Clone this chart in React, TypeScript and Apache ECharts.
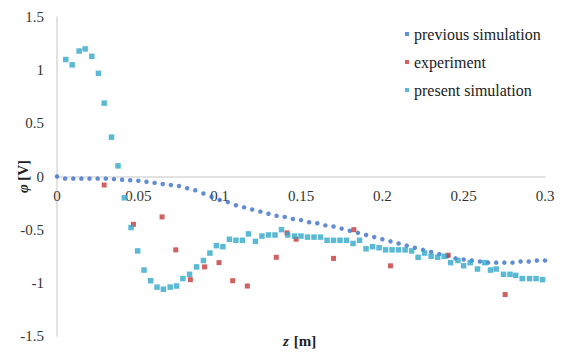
import React, { useEffect, useRef } from "react";
import * as echarts from "echarts";

const prevX = [0, 0.005, 0.01, 0.015, 0.02, 0.025, 0.03, 0.035, 0.04, 0.045, 0.05, 0.055, 0.06, 0.065, 0.07, 0.075, 0.08, 0.085, 0.09, 0.095, 0.1, 0.105, 0.11, 0.115, 0.12, 0.125, 0.13, 0.135, 0.14, 0.145, 0.15, 0.155, 0.16, 0.165, 0.17, 0.175, 0.18, 0.185, 0.19, 0.195, 0.2, 0.205, 0.21, 0.215, 0.22, 0.225, 0.23, 0.235, 0.24, 0.245, 0.25, 0.255, 0.26, 0.265, 0.27, 0.275, 0.28, 0.285, 0.29, 0.295, 0.3];
const prevY = [0.0, -0.02, -0.02, -0.02, -0.02, -0.02, -0.02, -0.025, -0.03, -0.035, -0.04, -0.05, -0.06, -0.07, -0.08, -0.09, -0.11, -0.13, -0.16, -0.19, -0.22, -0.24, -0.27, -0.29, -0.31, -0.33, -0.35, -0.37, -0.38, -0.4, -0.41, -0.43, -0.44, -0.46, -0.47, -0.49, -0.51, -0.53, -0.55, -0.57, -0.59, -0.61, -0.63, -0.65, -0.67, -0.69, -0.71, -0.73, -0.75, -0.77, -0.78, -0.79, -0.8, -0.81, -0.81, -0.81, -0.81, -0.8, -0.8, -0.79, -0.79];

const expX = [0.029, 0.047, 0.0646, 0.073, 0.082, 0.0907, 0.0996, 0.108, 0.117, 0.1348, 0.1414, 0.147, 0.17, 0.1825, 0.205, 0.2405, 0.2755];
const expY = [-0.08, -0.45, -0.38, -0.69, -0.97, -0.85, -0.81, -0.98, -1.03, -0.76, -0.53, -0.59, -0.77, -0.5, -0.84, -0.74, -1.11];

const presX = [0.0054, 0.0093, 0.0136, 0.0173, 0.0214, 0.0255, 0.029, 0.0335, 0.0375, 0.0414, 0.0455, 0.0496, 0.0535, 0.0576, 0.0615, 0.0654, 0.0696, 0.0735, 0.0774, 0.0815, 0.0858, 0.09, 0.094, 0.098, 0.102, 0.106, 0.11, 0.114, 0.1177, 0.122, 0.126, 0.13, 0.134, 0.138, 0.1418, 0.146, 0.15, 0.154, 0.158, 0.162, 0.166, 0.17, 0.174, 0.178, 0.182, 0.186, 0.19, 0.194, 0.198, 0.202, 0.206, 0.21, 0.214, 0.218, 0.222, 0.226, 0.23, 0.234, 0.238, 0.242, 0.2465, 0.25, 0.254, 0.2585, 0.263, 0.2665, 0.27, 0.2745, 0.2785, 0.282, 0.286, 0.2905, 0.2945, 0.2985];
const presY = [1.1, 1.05, 1.18, 1.2, 1.13, 0.97, 0.69, 0.37, 0.1, -0.2, -0.48, -0.7, -0.88, -0.98, -1.04, -1.06, -1.04, -1.03, -0.96, -0.92, -0.85, -0.79, -0.72, -0.65, -0.66, -0.59, -0.6, -0.6, -0.54, -0.61, -0.56, -0.55, -0.55, -0.5, -0.55, -0.56, -0.56, -0.57, -0.57, -0.57, -0.6, -0.6, -0.6, -0.6, -0.63, -0.6, -0.68, -0.66, -0.67, -0.69, -0.69, -0.69, -0.69, -0.7, -0.76, -0.72, -0.75, -0.76, -0.75, -0.81, -0.79, -0.84, -0.81, -0.87, -0.81, -0.88, -0.87, -0.92, -0.92, -0.93, -0.96, -0.96, -0.96, -0.97];

const seriesNames = ["previous simulation", "experiment", "present simulation"];
const colors = ["#3B6FC9", "#C63A3A", "#33A8CA"];

const FONT = "Liberation Serif";

const zip = (xs: number[], ys: number[]) => xs.map((x, i) => [x, ys[i]]);

export default function App() {
  const ref = useRef<HTMLDivElement>(null);
  useEffect(() => {
    document.body.style.margin = "0";
    const chart = echarts.init(ref.current!, null, { renderer: "svg" });
    chart.setOption({
      animation: false,
      color: colors,
      grid: { left: 57, right: 17, top: 17, bottom: 20, containLabel: false, outerBoundsMode: "none" },
      title: {
        text: "{i|z} {b|[m]}",
        left: 283,
        top: 332,
        padding: 0,
        textStyle: {
          rich: {
            i: { fontFamily: FONT, fontSize: 15, fontWeight: "bold", fontStyle: "italic", color: "#222" },
            b: { fontFamily: FONT, fontSize: 15, fontWeight: "bold", color: "#222" },
          },
        },
      },
      legend: {
        orient: "vertical",
        left: 400,
        top: 21,
        itemWidth: 4,
        itemHeight: 4,
        itemGap: 12,
        icon: "rect",
        textStyle: { fontFamily: FONT, fontSize: 16, color: "#222" },
        data: seriesNames,
      },
      xAxis: {
        type: "value",
        min: 0,
        max: 0.3,
        interval: 0.05,
        offset: -159.5,
        axisLine: { onZero: false, lineStyle: { color: "#d9d9d9", width: 1.5 } },
        axisTick: { show: false },
        splitLine: { show: false },
        axisLabel: {
          fontFamily: FONT,
          fontSize: 15,
          color: "#333",
          margin: 12,
          formatter: (v: number) => String(+v.toFixed(2)),
        },
      },
      yAxis: {
        type: "value",
        min: -1.5,
        max: 1.5,
        interval: 0.5,
        name: "{i|φ} {b|[V]}",
        nameLocation: "middle",
        nameRotate: 90,
        nameGap: 27,
        nameMoveOverlap: false,
        nameTextStyle: {
          rich: {
            i: { fontFamily: FONT, fontSize: 15, fontWeight: "bold", fontStyle: "italic", color: "#222" },
            b: { fontFamily: FONT, fontSize: 15, fontWeight: "bold", color: "#222" },
          },
        },
        axisLine: { show: true, lineStyle: { color: "#d9d9d9", width: 1.5 } },
        axisTick: { show: false },
        splitLine: { show: false },
        axisLabel: {
          fontFamily: FONT,
          fontSize: 15,
          color: "#333",
          margin: 13,
          formatter: (v: number) => String(+v.toFixed(1)),
        },
      },
      series: [
        {
          name: seriesNames[0],
          type: "scatter",
          symbol: "circle",
          symbolSize: 4.5,
          data: zip(prevX, prevY),
        },
        {
          name: seriesNames[1],
          type: "scatter",
          symbol: "rect",
          symbolSize: 5,
          data: zip(expX, expY),
        },
        {
          name: seriesNames[2],
          type: "scatter",
          symbol: "rect",
          symbolSize: 5.5,
          data: zip(presX, presY),
        },
      ],
    });
    return () => chart.dispose();
  }, []);
  return <div ref={ref} style={{ position: "absolute", left: 0, top: 0, width: 562, height: 356 }} />;
}
